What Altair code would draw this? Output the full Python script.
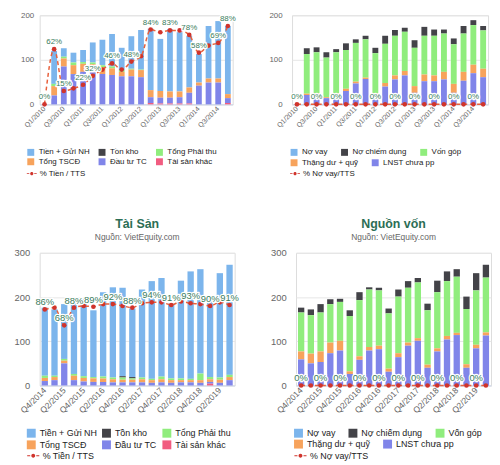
import altair as alt
import pandas as pd

# ---------------- data ----------------
Q_TOP = ["Q1/2010", "Q2/2010", "Q3/2010", "Q4/2010", "Q1/2011", "Q2/2011", "Q3/2011", "Q4/2011",
         "Q1/2012", "Q2/2012", "Q3/2012", "Q4/2012", "Q1/2013", "Q2/2013", "Q3/2013", "Q4/2013",
         "Q1/2014", "Q2/2014", "Q3/2014", "Q4/2014"]
Q_BOT = ["Q4/2014", "Q1/2015", "Q2/2015", "Q3/2015", "Q4/2015", "Q1/2016", "Q2/2016", "Q3/2016",
         "Q4/2016", "Q1/2017", "Q2/2017", "Q3/2017", "Q4/2017", "Q1/2018", "Q2/2018", "Q3/2018",
         "Q4/2018", "Q1/2019", "Q2/2019", "Q3/2019"]

TS_NAMES = ["Tiền + Gửi NH", "Tồn kho", "Tổng Phải thu", "Tổng TSCĐ", "Đầu tư TC", "Tài sản khác"]
NV_NAMES = ["Nợ vay", "Nợ chiếm dụng", "Vốn góp", "Thặng dư + quỹ", "LNST chưa pp"]
TS_LINE = "% Tiền / TTS"
NV_LINE = "% Nợ vay/TTS"

# Top-left: Tài sản 2010-2014
TL_TIEN = [0, 74, 19, 22, 27, 45, 57, 73, 50, 73, 89, 138, 117, 140, 133, 116, 64, 118, 129, 153]
TL_TONKHO = [0, 0, 0, 0, 0, 0, 0, 0, 0, 0, 0, 0, 0, 0, 0, 0, 0, 0, 0, 0]
TL_PHAITHU = [0, 5, 4, 6, 4, 4, 5, 4, 4, 2, 1, 0, 0, 0, 0, 0, 0, 0, 0, 0]
TL_TSCD = [0, 21, 18, 20, 18, 18, 15, 15, 10, 15, 16, 16, 15, 14, 13, 12, 7, 9, 9, 9]
TL_DAUTU = [0, 20, 85, 68, 73, 72, 68, 66, 63, 63, 61, 13, 13, 13, 14, 24, 42, 49, 49, 11]
TL_KHAC = [0, 0, 0, 0, 0, 0, 0, 0, 0, 0, 0, 3, 2, 2, 2, 2, 0, 0, 0, 3]
TL_PCT = [0, 62, 15, 18, 22, 32, 39, 46, 39, 48, 54, 84, 81, 83, 83, 78, 58, 66, 69, 88]
TL_SHOW = [1, 1, 1, 0, 1, 1, 0, 1, 0, 1, 0, 1, 0, 1, 0, 1, 1, 0, 1, 1]

# Top-right: Nguồn vốn 2010-2014
TR_NOVAY = [0, 0, 0, 0, 0, 0, 0, 0, 0, 0, 0, 0, 0, 0, 0, 0, 0, 0, 0, 0]
TR_CHIEMDUNG = [0, 13, 11, 12, 7, 15, 8, 8, 12, 18, 13, 9, 17, 20, 14, 9, 13, 17, 11, 10]
TR_VONGOP = [0, 89, 92, 89, 92, 87, 87, 86, 90, 88, 89, 88, 86, 87, 89, 86, 89, 86, 89, 86]
TR_THANGDU = [0, 3, 7, 2, 8, 5, 4, 3, 5, 8, 9, 10, 15, 15, 13, 17, 20, 20, 19, 19]
TR_LNST = [0, 21, 18, 14, 17, 30, 47, 57, 20, 40, 56, 65, 26, 52, 52, 56, 26, 53, 70, 61]
TR_PCT = [0, 0, 0, 0, 0, 0, 0, 0, 0, 0, 0, 0, 0, 0, 0, 0, 0, 0, 0, 0]
TR_SHOW = [1, 0, 1, 0, 1, 0, 1, 0, 1, 0, 1, 0, 1, 0, 1, 0, 1, 0, 1, 0]

# Bottom-left: Tài sản 2014-2019
BL_TIEN = [154, 150, 124, 169, 175, 151, 191, 204, 200, 155, 199, 221, 223, 169, 221, 243, 236, 182, 236, 249]
BL_TONKHO = [0, 0, 0, 0, 0, 0, 0, 0, 3, 3, 0, 0, 0, 0, 0, 0, 0, 0, 0, 0]
BL_PHAITHU = [5, 3, 4, 4, 4, 3, 4, 4, 5, 3, 4, 3, 6, 4, 4, 3, 15, 5, 5, 5]
BL_TSCD = [7, 7, 6, 10, 8, 8, 8, 7, 6, 6, 7, 6, 7, 6, 5, 5, 6, 6, 7, 7]
BL_DAUTU = [10, 12, 50, 12, 9, 8, 8, 7, 7, 7, 7, 6, 7, 6, 7, 7, 6, 4, 6, 12]
BL_KHAC = [0, 0, 0, 0, 0, 0, 0, 0, 0, 0, 0, 0, 0, 0, 0, 0, 0, 4, 0, 0]
BL_PCT = [86, 88, 68, 88, 90, 89, 92, 92, 90, 88, 93, 94, 94, 91, 95, 93, 92, 90, 94, 91]
BL_SHOW = [1, 0, 1, 1, 0, 1, 0, 1, 0, 1, 0, 1, 0, 1, 0, 1, 0, 1, 0, 1]

# Bottom-right: Nguồn vốn 2014-2019
BR_NOVAY = [0, 0, 0, 0, 0, 0, 0, 0, 0, 0, 0, 0, 0, 0, 0, 0, 0, 0, 0, 0]
BR_CHIEMDUNG = [11, 13, 19, 11, 7, 13, 18, 5, 6, 11, 16, 15, 10, 15, 26, 22, 17, 28, 39, 29]
BR_VONGOP = [88, 87, 88, 87, 88, 125, 127, 130, 125, 125, 128, 124, 126, 123, 127, 124, 127, 125, 123, 124]
BR_THANGDU = [18, 22, 24, 24, 22, 6, 8, 8, 8, 7, 9, 7, 6, 7, 7, 8, 5, 8, 8, 7]
BR_LNST = [59, 50, 53, 73, 79, 26, 58, 79, 82, 31, 64, 90, 101, 40, 77, 104, 114, 40, 84, 113]
BR_PCT = [0, 0, 0, 0, 0, 0, 0, 0, 0, 0, 0, 0, 0, 0, 0, 0, 0, 0, 0, 0]
BR_SHOW = [1, 0, 1, 0, 1, 0, 1, 0, 1, 0, 1, 0, 1, 0, 1, 0, 1, 0, 1, 0]

# ---------------- styles ----------------
TS_COLORS = ["#7cb5ec", "#434348", "#90ed7d", "#f7a35c", "#8085e9", "#f15c80"]
NV_COLORS = ["#7cb5ec", "#434348", "#90ed7d", "#f7a35c", "#8085e9"]
LINE_C = "#e8603c"
DOT_C = "#d0342c"
LABEL_C = "#3a7d5d"
TITLE_C = "#2c6e55"
FONT = "Liberation Sans"
LINE_SYMBOL = ("M-1,-0.09L-0.5,-0.09L-0.5,0.09L-1,0.09Z"
               "M0.5,-0.09L1,-0.09L1,0.09L0.5,0.09Z"
               "M0.32,0A0.32,0.32,0,1,1,-0.32,0A0.32,0.32,0,1,1,0.32,0Z")


def bars_frame(quarters, names, values):
    rows = []
    n = len(names)
    for k, (name, vals) in enumerate(zip(names, values)):
        for q, v in zip(quarters, vals):
            rows.append({"q": q, "series": name, "value": v, "order": n - 1 - k})
    return pd.DataFrame(rows)


def line_frame(quarters, pct, show, name):
    return pd.DataFrame({"q": quarters, "pct": pct, "show": show,
                         "lbl": [f"{p}%" for p in pct], "name": name})


def panel(quarters, names, values, colors, groups, pct, show, line_name,
          ymax, yticks, pmax, width, height, fs, lfs, xfs, axis_ext, axis_pad,
          pad_inner, sym, row_pad, line_legend, title=None):
    df = bars_frame(quarters, names, values)
    dl = line_frame(quarters, pct, show, line_name)

    x = alt.X("q:N", sort=quarters,
              scale=alt.Scale(paddingInner=pad_inner, paddingOuter=0.2),
              axis=alt.Axis(values=quarters[::2], labelAngle=-45, title=None,
                            labelFontSize=xfs, labelColor="#666", labelFont=FONT,
                            ticks=False, domainColor="#ccd6eb", labelPadding=3,
                            labelAlign="right", labelBaseline="middle"))

    layers = []
    for gi, (members, ncol, lx, ly, cpad) in enumerate(groups):
        idx = [names.index(m) for m in members]
        leg = alt.Legend(orient="none", legendX=lx, legendY=ly, direction="horizontal",
                         columns=ncol, title=None, symbolType="square", symbolSize=sym,
                         symbolStrokeWidth=0, labelFontSize=lfs, labelColor="#222",
                         labelFont=FONT, columnPadding=cpad, rowPadding=row_pad,
                         labelOffset=4, padding=0)
        sc = alt.Scale(domain=members, range=[colors[i] for i in idx])
        chan = alt.Fill("series:N", scale=sc, legend=leg) if gi == 0 else \
            alt.Color("series:N", scale=sc, legend=leg)
        yaxis = alt.Axis(values=yticks, title=None, domain=False, ticks=False,
                         gridColor="#e6e6e6", labelFontSize=fs, labelColor="#666",
                         labelFont=FONT, labelPadding=axis_pad,
                         minExtent=axis_ext, maxExtent=axis_ext) if gi == 0 else None
        lay = (alt.Chart(df)
               .transform_stack(stack="value", groupby=["q"], as_=["y0", "y1"],
                                sort=[alt.SortField("order", order="ascending")])
               .transform_filter(alt.FieldOneOfPredicate(field="series", oneOf=members))
               .mark_bar()
               .encode(x=x,
                       y=alt.Y("y0:Q", scale=alt.Scale(domain=[0, ymax]), axis=yaxis),
                       y2="y1:Q",
                       **({"fill": chan} if gi == 0 else {"color": chan})))
        layers.append(lay)

    lx, ly, lsym = line_legend
    ys = alt.Y("pct:Q", scale=alt.Scale(domain=[0, pmax]), axis=None)
    line = alt.Chart(dl).mark_line(strokeDash=[4, 3], strokeWidth=1.5,
                                   interpolate="monotone").encode(
        x=x, y=ys,
        stroke=alt.Stroke("name:N", scale=alt.Scale(domain=[line_name], range=[LINE_C]),
                          legend=alt.Legend(orient="none", legendX=lx, legendY=ly, title=None,
                                            symbolType=LINE_SYMBOL, symbolSize=lsym,
                                            symbolFillColor=DOT_C, symbolStrokeWidth=0,
                                            labelFontSize=lfs, labelColor="#222",
                                            labelFont=FONT, labelOffset=3, padding=0)))
    pts = alt.Chart(dl).mark_circle(size=22, color=DOT_C, opacity=1).encode(x=x, y=ys)
    halo = (alt.Chart(dl).transform_filter("datum.show == 1")
            .mark_text(dy=-7, fontSize=fs, font=FONT, color="white", stroke="white",
                       strokeWidth=2.5, strokeJoin="round")
            .encode(x=x, y=ys, text="lbl:N"))
    txt = (alt.Chart(dl).transform_filter("datum.show == 1")
           .mark_text(dy=-7, fontSize=fs, font=FONT, color=LABEL_C)
           .encode(x=x, y=ys, text="lbl:N"))

    ch = alt.layer(*layers, line, pts, halo, txt).resolve_scale(y="independent")
    props = dict(width=width, height=height)
    if title is not None:
        props["title"] = alt.TitleParams(title, subtitle="Nguồn: VietEquity.com",
                                         fontSize=12.5, fontWeight="bold", color=TITLE_C,
                                         font=FONT, subtitleFont=FONT, subtitleFontSize=8.5,
                                         subtitleColor="#666", anchor="middle", offset=6,
                                         subtitlePadding=3)
    return ch.properties(**props)


tl = panel(Q_TOP, TS_NAMES, [TL_TIEN, TL_TONKHO, TL_PHAITHU, TL_TSCD, TL_DAUTU, TL_KHAC],
           TS_COLORS, [(TS_NAMES, 3, -13, 134.5, 8)], TL_PCT, TL_SHOW, TS_LINE,
           200, [0, 100, 200], 100, 195, 90, 8, 8, 7, 24, 6, 0.4, 49, 1.5, (-13, 155, 100))
tr = panel(Q_TOP, NV_NAMES, [TR_NOVAY, TR_CHIEMDUNG, TR_VONGOP, TR_THANGDU, TR_LNST],
           NV_COLORS, [(NV_NAMES[:3], 3, -2, 134.5, 13), (NV_NAMES[3:], 2, -2, 145, 13)],
           TR_PCT, TR_SHOW, NV_LINE,
           200, [0, 100, 200], 100, 198, 90, 8, 8, 7, 22, 10, 0.4, 49, 1.5, (-2, 155, 100))
bl = panel(Q_BOT, TS_NAMES, [BL_TIEN, BL_TONKHO, BL_PHAITHU, BL_TSCD, BL_DAUTU, BL_KHAC],
           TS_COLORS, [(TS_NAMES, 3, -13, 177.5, 5)], BL_PCT, BL_SHOW, TS_LINE,
           300, [0, 100, 200, 300], 150, 197, 134, 9.5, 9, 8.5, 31, 10, 0.35, 81, 2,
           (-13, 198.5, 150), title="Tài Sản")
br = panel(Q_BOT, NV_NAMES, [BR_NOVAY, BR_CHIEMDUNG, BR_VONGOP, BR_THANGDU, BR_LNST],
           NV_COLORS, [(NV_NAMES[:3], 3, -2, 177.5, 13), (NV_NAMES[3:], 2, -2, 188.5, 13)],
           BR_PCT, BR_SHOW, NV_LINE,
           300, [0, 100, 200, 300], 150, 197, 134, 9.5, 9, 8.5, 22, 10, 0.35, 81, 2,
           (-2, 198.5, 150), title="Nguồn vốn")

indep = dict(fill="independent", color="independent", stroke="independent")
top = alt.hconcat(tl, tr, spacing=32).resolve_scale(**indep)
bot = alt.hconcat(bl, br, spacing=30).resolve_scale(**indep)

chart = (alt.vconcat(top, bot, spacing=39)
         .resolve_scale(**indep)
         .properties(padding={"left": 0, "top": 0, "right": 0, "bottom": 0})
         .configure_view(stroke=None)
         .configure(font=FONT, background="white"))

chart.save("out.html", embed_options={"renderer": "svg", "actions": False})
